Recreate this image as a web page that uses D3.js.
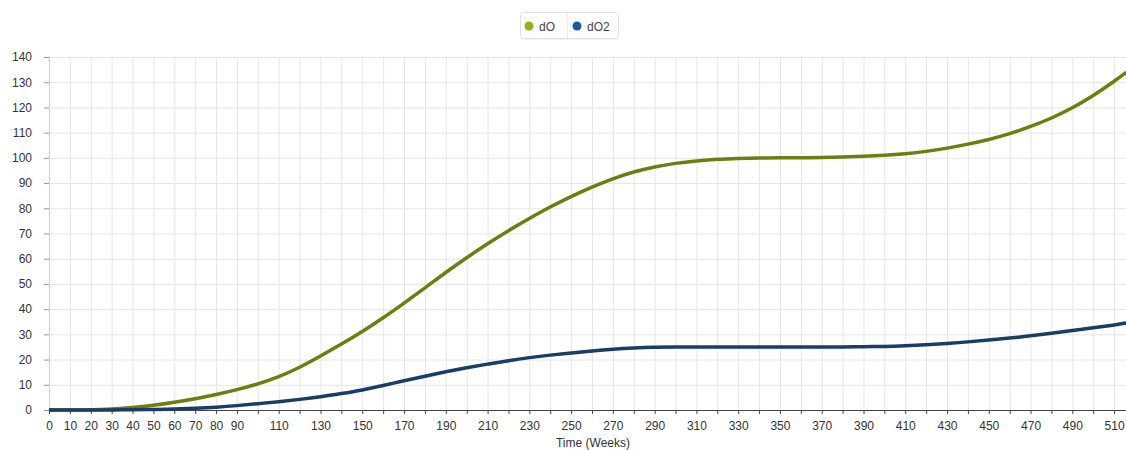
<!DOCTYPE html>
<html>
<head>
<meta charset="utf-8">
<script src="https://cdn.jsdelivr.net/npm/d3@7"></script>
<style>
  html, body { margin: 0; padding: 0; background: #fff; }
  svg { display: block; font-family: "Liberation Sans", Arial, sans-serif; }
</style>
</head>
<body>
<svg id="chart" width="1126" height="450"></svg>
<script>
// ---- data ----
const weeks = [0,10,20,30,40,50,60,70,80,90,100,110,120,130,140,150,160,170,180,190,200,
  210,220,230,240,250,260,270,280,290,300,310,320,330,340,350,360,370,380,390,400,
  410,420,430,440,450,460,470,480,490,500,510,516];
const dO = [0,0,0.1,0.4,0.9,1.8,3.0,4.4,6.1,8.0,10.3,13.1,16.8,21.4,26.1,31.1,36.5,42.4,48.4,54.6,60.4,
  66.0,71.2,76.0,80.6,84.7,88.5,91.8,94.5,96.5,97.9,98.8,99.5,99.8,100,100,100,100.1,100.3,100.6,101.0,
  101.6,102.5,103.8,105.4,107.2,109.5,112.4,115.7,119.7,124.6,130.3,134.0];
const dO2 = [0,0,0,0,0.1,0.2,0.4,0.7,1.1,1.7,2.5,3.3,4.2,5.2,6.5,7.9,9.7,11.6,13.4,15.2,16.8,
  18.2,19.6,20.8,21.8,22.6,23.4,24.1,24.6,24.9,25,25,25,25,25,25,25,25,25,25.1,25.2,
  25.5,25.9,26.4,27.0,27.7,28.5,29.4,30.4,31.5,32.6,33.7,34.5];
const seriesNames = ["dO", "dO2"];
const lineColors = ["#6c7f0e", "#163e66"];
const legendColors = ["#8db31b", "#1b5aa3"];
const yTicks = [0,10,20,30,40,50,60,70,80,90,100,110,120,130,140];
const xGridTicks = d3.range(0, 511, 10);
const xTickLabels = [0,10,20,30,40,50,60,70,80,90,110,130,150,170,190,210,230,250,270,290,310,330,350,370,390,410,430,450,470,490,510];
const xTitle = "Time (Weeks)";

// ---- layout ----
const svg = d3.select("#chart");
const padL = 49, padR = 1126, padT = 57, padB = 410;
const x = d3.scaleLinear().domain([0, 515.7]).range([padL, padR]);
const y = d3.scaleLinear().domain([0, 140]).range([padB, padT]);

// grid
const grid = svg.append("g");
grid.selectAll("line.v").data(xGridTicks).join("line")
  .attr("x1", d => x(d) + 0.5).attr("x2", d => x(d) + 0.5)
  .attr("y1", padT).attr("y2", padB)
  .attr("stroke", "#e6e6e6").attr("stroke-width", 1);
grid.selectAll("line.h").data(yTicks).join("line")
  .attr("x1", padL).attr("x2", padR)
  .attr("y1", d => y(d) + 0.5).attr("y2", d => y(d) + 0.5)
  .attr("stroke", "#e6e6e6").attr("stroke-width", 1);

// y axis
const yAxis = svg.append("g").attr("transform", `translate(${padL},0)`)
  .call(d3.axisLeft(y).tickValues(yTicks).tickSize(5).tickPadding(12));
yAxis.select(".domain").attr("stroke", "#d0d0d0");
yAxis.selectAll(".tick line").attr("stroke", "#999");
yAxis.selectAll("text").attr("fill", "#333").style("font-size", "12px");

// x axis
const xAxis = svg.append("g").attr("transform", `translate(0,${padB})`)
  .call(d3.axisBottom(x).tickValues(xGridTicks).tickSize(4).tickPadding(7)
    .tickFormat(d => xTickLabels.includes(d) ? d : ""));
xAxis.select(".domain").attr("stroke", "#444").attr("d", `M${padL},0.5H${padR}`);
xAxis.selectAll(".tick line").attr("stroke", "#444");
xAxis.selectAll("text").attr("fill", "#333").style("font-size", "12px");

svg.append("text").attr("x", 593).attr("y", 447)
  .attr("text-anchor", "middle").attr("fill", "#333").style("font-size", "12px")
  .text(xTitle);

// lines
svg.append("clipPath").attr("id", "clip").append("rect")
  .attr("x", padL).attr("y", 0).attr("width", padR - padL).attr("height", padB + 5);
const line = d3.line().x((d, i) => x(weeks[i])).y(d => y(d)).curve(d3.curveBasis);
const plots = svg.append("g").attr("clip-path", "url(#clip)");
[dO, dO2].forEach((s, k) => {
  plots.append("path").attr("d", line(s)).attr("fill", "none")
    .attr("stroke", lineColors[k]).attr("stroke-width", 3.5).attr("stroke-linecap", "round");
});

// legend
const lg = svg.append("g");
lg.append("rect").attr("x", 521).attr("y", 14).attr("width", 98).attr("height", 26)
  .attr("rx", 3).attr("fill", "#f2f2f2");
lg.append("rect").attr("x", 520.5).attr("y", 12.5).attr("width", 98).attr("height", 26)
  .attr("rx", 3).attr("fill", "#fff").attr("stroke", "#e2e2e2");
lg.append("line").attr("x1", 567.5).attr("x2", 567.5).attr("y1", 13).attr("y2", 38)
  .attr("stroke", "#ececec");
const lx = [529, 577];
seriesNames.forEach((n, k) => {
  lg.append("circle").attr("cx", lx[k]).attr("cy", 26).attr("r", 4.5).attr("fill", legendColors[k]);
  lg.append("text").attr("x", lx[k] + 10).attr("y", 30.5).attr("fill", "#444")
    .style("font-size", "12px").text(n);
});
</script>
</body>
</html>
